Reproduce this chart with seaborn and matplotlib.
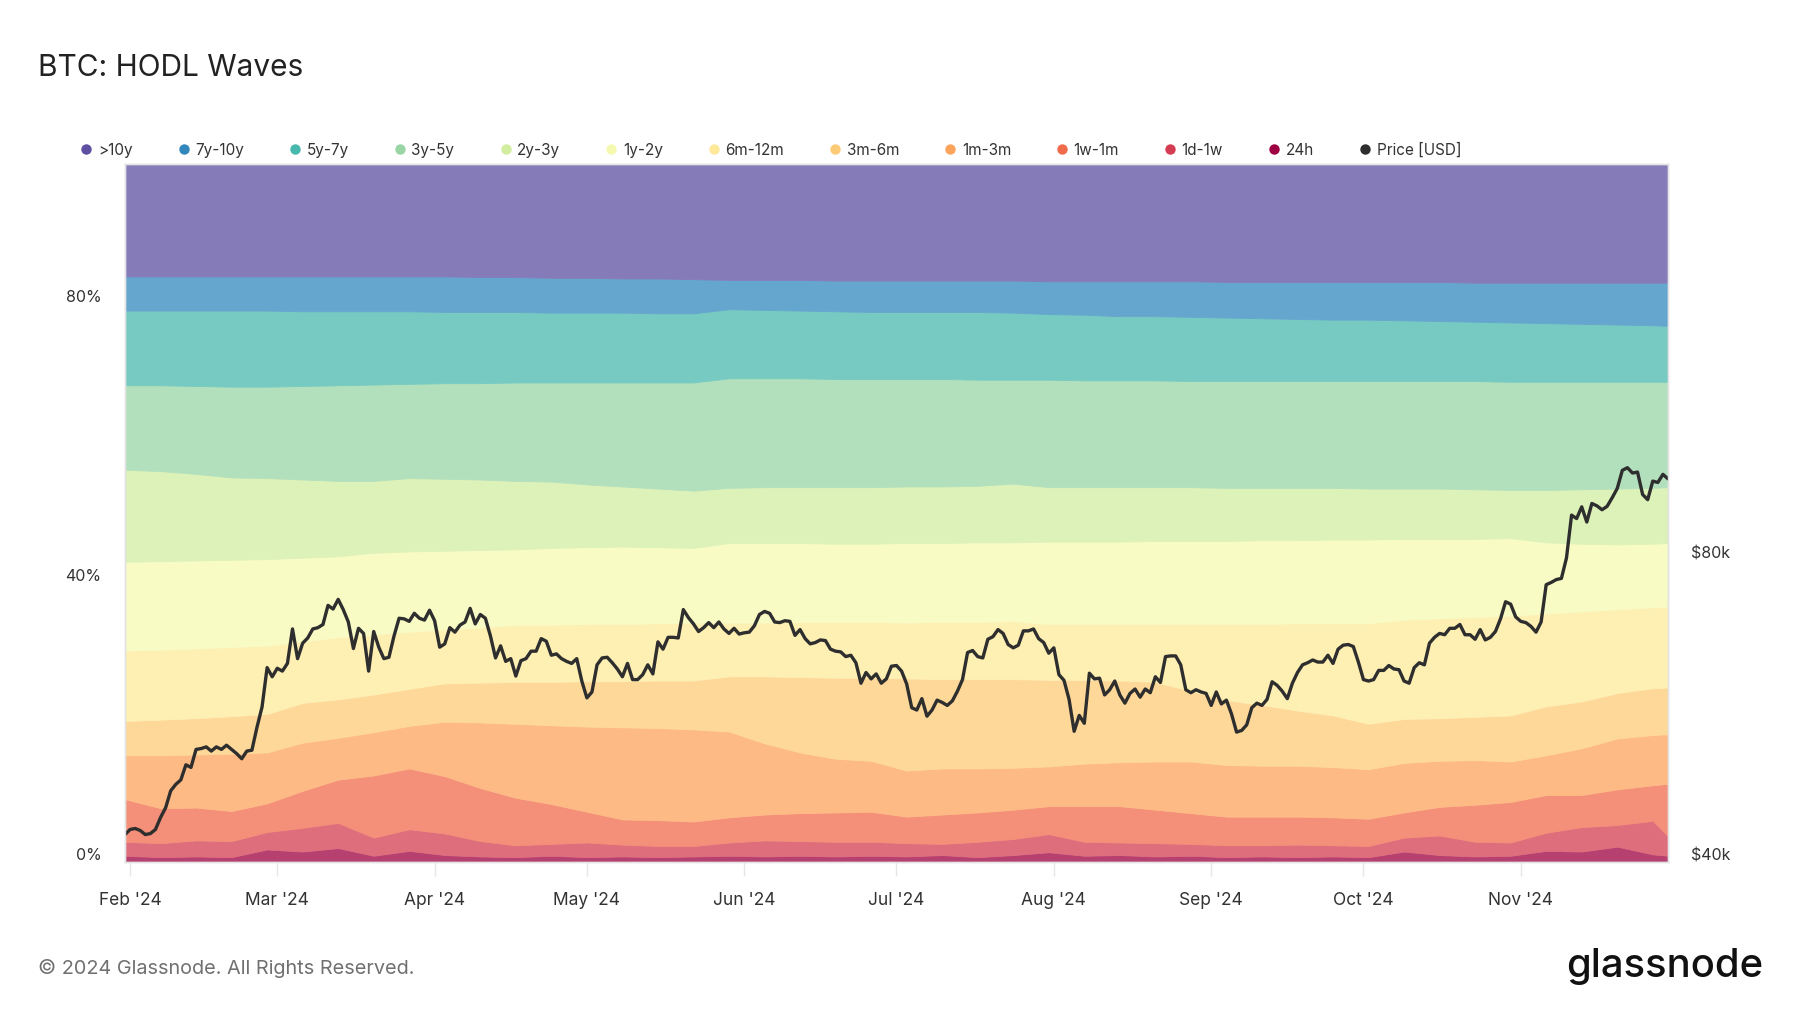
import numpy as np
import pandas as pd
import matplotlib
matplotlib.use("Agg")
import matplotlib.pyplot as plt
import matplotlib.dates as mdates
import matplotlib.colors as mcolors
from matplotlib.lines import Line2D
from matplotlib.ticker import NullLocator
from matplotlib.transforms import ScaledTranslation
import seaborn as sns

sns.set_theme(style="white")
plt.rcParams["font.family"] = ["Inter", "DejaVu Sans"]

# ---------------------------------------------------------------------------
# DATA (% of supply per age band, weekly samples)
# ---------------------------------------------------------------------------

cohorts = [">10y", "7y-10y", "5y-7y", "3y-5y", "2y-3y", "1y-2y",
           "6m-12m", "3m-6m", "1m-3m", "1w-1m", "1d-1w", "24h"]
cohort_colors = ["#5e4fa2", "#3288bd", "#48b8ac", "#99d5a5", "#d1eda0", "#f5f9b0",
                 "#fee99a", "#fdcb77", "#fca35c", "#f06a4c", "#d43d51", "#9e0142"]

band_dates = pd.date_range("2024-01-31", periods=44, freq="7D").append(
    pd.DatetimeIndex(["2024-11-30"]))

share_24h = [0.9, 0.7, 0.8, 0.7, 1.8, 1.5, 2.0, 0.9, 1.6, 1.0, 0.8, 0.7, 0.9, 0.7, 0.8,
             0.7, 0.8, 0.9, 0.8, 0.9, 0.8, 0.9, 0.8, 1.0, 0.7, 1.0, 1.4, 0.9, 1.0, 0.8,
             0.9, 0.7, 0.8, 0.7, 0.8, 0.7, 1.5, 1.0, 0.8, 0.9, 1.6, 1.5, 2.2, 1.1, 0.9]
share_1d_1w = [2.0, 2.0, 2.3, 2.3, 2.5, 3.4, 3.6, 2.6, 3.1, 3.1, 2.2, 1.7, 1.7, 2.1, 1.7,
               1.6, 1.5, 1.9, 2.3, 2.1, 2.1, 2.0, 1.9, 1.6, 2.2, 2.3, 2.6, 2.0, 1.8, 1.9,
               1.7, 1.7, 1.6, 1.8, 1.6, 1.6, 2.0, 2.8, 2.1, 1.9, 2.6, 3.5, 3.1, 4.8, 2.8]
share_1w_1m = [6.1, 5.0, 4.7, 4.3, 4.1, 5.3, 6.2, 8.9, 8.7, 8.2, 7.6, 6.8, 5.7, 4.4, 3.6,
               3.7, 3.5, 3.6, 3.7, 4.0, 4.2, 4.3, 3.8, 4.2, 4.2, 4.2, 4.0, 5.1, 5.2, 4.8,
               4.4, 4.1, 4.1, 4.0, 4.0, 3.9, 3.6, 4.1, 5.3, 5.8, 5.4, 4.6, 5.1, 5.1, 7.5]
share_1m_3m = [6.3, 7.6, 7.6, 8.2, 7.3, 6.9, 6.0, 6.2, 6.1, 7.8, 9.4, 10.6, 11.3, 12.2, 13.2,
               13.2, 13.2, 12.3, 10.2, 8.7, 7.7, 7.3, 6.6, 6.6, 6.3, 6.0, 5.7, 6.1, 6.3, 6.9,
               7.4, 7.4, 7.3, 7.3, 7.2, 7.1, 7.1, 6.6, 6.4, 5.8, 5.7, 6.7, 7.3, 7.2, 7.1]
share_3m_6m = [4.9, 5.1, 5.2, 5.4, 5.5, 5.7, 5.5, 5.4, 5.3, 5.5, 5.7, 6.0, 6.2, 6.5, 6.6,
               6.8, 7.0, 7.9, 9.6, 10.8, 11.6, 11.9, 13.2, 12.8, 12.8, 12.7, 12.4, 12.0, 11.7, 11.4,
               10.1, 9.3, 8.7, 7.9, 7.4, 6.5, 6.3, 6.1, 6.2, 6.6, 7.0, 6.7, 6.5, 6.7, 6.7]
share_6m_12m = [10.1, 10.0, 10.0, 9.9, 9.8, 8.8, 8.9, 8.6, 8.2, 7.7, 7.9, 8.2, 8.2, 8.2, 8.2,
                8.2, 8.3, 7.7, 7.7, 7.9, 8.0, 8.0, 8.0, 8.2, 8.2, 8.3, 8.0, 8.0, 8.1, 8.3,
                9.6, 10.9, 11.6, 12.5, 13.2, 14.4, 14.2, 14.3, 14.3, 14.3, 13.3, 12.9, 12.0, 11.6, 11.6]
share_1y_2y = [12.7, 12.7, 12.6, 12.5, 12.4, 12.0, 11.6, 11.7, 11.5, 11.3, 11.1, 10.8, 11.0, 11.0, 11.1,
               10.9, 10.7, 11.4, 11.4, 11.3, 11.2, 11.2, 11.4, 11.3, 11.4, 11.3, 11.8, 11.8, 11.8, 11.9,
               11.9, 11.9, 12.0, 11.9, 12.0, 12.0, 11.6, 11.4, 11.2, 11.1, 10.2, 9.7, 9.3, 9.1, 9.1]
share_2y_3y = [13.2, 12.9, 12.4, 11.8, 11.6, 11.2, 10.8, 10.3, 10.5, 10.3, 10.1, 9.8, 9.5, 9.0, 8.6,
               8.4, 8.2, 7.9, 8.0, 8.0, 8.1, 8.1, 8.1, 8.1, 8.1, 8.4, 7.8, 7.8, 7.8, 7.7,
               7.7, 7.6, 7.5, 7.5, 7.4, 7.3, 7.2, 7.2, 7.1, 6.9, 7.5, 7.8, 8.0, 8.0, 8.0]
share_3y_5y = [12.1, 12.3, 12.6, 13.0, 13.1, 13.4, 13.7, 13.8, 13.5, 13.7, 13.8, 14.1, 14.2, 14.6, 14.9,
               15.2, 15.5, 15.7, 15.6, 15.6, 15.5, 15.5, 15.4, 15.4, 15.2, 14.9, 15.4, 15.3, 15.3, 15.3,
               15.2, 15.3, 15.3, 15.3, 15.3, 15.4, 15.4, 15.4, 15.5, 15.5, 15.5, 15.4, 15.3, 15.2, 15.1]
share_5y_7y = [10.7, 10.7, 10.8, 10.9, 10.9, 10.7, 10.6, 10.5, 10.4, 10.2, 10.2, 10.1, 10.0, 10.0, 10.0,
               9.9, 9.9, 9.9, 9.8, 9.7, 9.7, 9.6, 9.6, 9.6, 9.7, 9.6, 9.4, 9.4, 9.2, 9.2,
               9.2, 9.1, 9.0, 8.9, 8.8, 8.8, 8.7, 8.6, 8.5, 8.5, 8.4, 8.3, 8.2, 8.1, 8.0]
share_7y_10y = [4.9, 4.9, 4.9, 4.9, 4.9, 5.0, 5.0, 5.0, 5.0, 5.1, 5.0, 5.0, 5.0, 5.0, 4.9,
                5.0, 4.9, 4.2, 4.3, 4.4, 4.4, 4.5, 4.5, 4.5, 4.5, 4.6, 4.7, 4.8, 5.0, 5.0,
                5.1, 5.1, 5.2, 5.3, 5.4, 5.4, 5.5, 5.6, 5.6, 5.7, 5.8, 5.9, 6.0, 6.1, 6.2]
share_10y = [16.1, 16.1, 16.1, 16.1, 16.1, 16.1, 16.1, 16.1, 16.1, 16.1, 16.2, 16.2, 16.3, 16.3, 16.4,
             16.4, 16.5, 16.6, 16.6, 16.6, 16.7, 16.7, 16.7, 16.7, 16.7, 16.7, 16.8, 16.8, 16.8, 16.8,
             16.8, 16.9, 16.9, 16.9, 16.9, 16.9, 16.9, 16.9, 17.0, 17.0, 17.0, 17.0, 17.0, 17.0, 17.0]

# daily BTC close, $k, 31 Jan -> 30 Nov 2024
price_k = [
    42.6,
    43.1, 43.2, 43.0, 42.6, 42.7, 43.1, 44.3, 45.3, 47.1, 47.8, 48.3, 50.0, 49.7, 51.8, 51.9,
    52.1, 51.6, 52.1, 51.8, 52.3, 51.8, 51.3, 50.7, 51.6, 51.7, 54.5, 57.1, 62.5, 61.2,
    62.4, 62.0, 63.1, 68.3, 63.8, 66.1, 66.9, 68.3, 68.5, 69.0, 72.1, 71.5, 73.1, 71.4, 69.4,
    65.3, 68.4, 67.6, 62.0, 67.9, 65.5, 63.8, 64.0, 67.2, 70.0, 69.9, 69.5, 70.8, 70.0, 69.7, 71.3,
    69.6, 65.5, 66.0, 68.5, 67.8, 68.9, 69.4, 71.6, 69.1, 70.6, 70.0, 67.2, 63.9, 65.7, 63.4,
    63.8, 61.3, 63.5, 63.8, 64.9, 64.9, 66.8, 66.4, 64.3, 64.5, 63.8, 63.4, 63.1, 63.8, 60.6,
    58.3, 59.1, 62.9, 63.9, 64.0, 63.2, 62.3, 61.2, 63.1, 60.8, 60.8, 61.5, 62.9, 61.6, 66.3,
    65.2, 67.0, 67.0, 66.9, 71.4, 70.1, 69.1, 67.9, 68.5, 69.3, 68.5, 69.4, 68.3, 67.6, 68.4, 67.5,
    67.7, 67.8, 68.8, 70.6, 71.1, 70.8, 69.4, 69.3, 69.6, 69.5, 67.3, 68.2, 66.8, 66.0, 66.2,
    66.6, 66.5, 65.2, 64.9, 64.8, 64.1, 64.3, 63.2, 60.3, 61.8, 60.9, 61.6, 60.3, 60.9, 62.7,
    62.8, 62.0, 60.2, 57.0, 56.7, 58.2, 55.9, 56.7, 58.0, 57.7, 57.3, 57.9, 59.2, 60.8, 64.7,
    65.0, 64.1, 63.9, 66.7, 67.1, 68.2, 67.6, 65.9, 65.4, 65.8, 68.0, 68.0, 68.3, 66.8, 66.2, 64.6,
    65.4, 61.5, 60.7, 58.1, 54.0, 56.0, 55.0, 61.7, 60.9, 61.0, 58.7, 59.4, 60.6, 58.7, 57.6,
    58.9, 59.5, 58.4, 59.5, 59.0, 61.2, 60.4, 64.1, 64.2, 64.2, 62.9, 59.4, 59.0, 59.4, 59.1, 58.9,
    57.3, 59.1, 57.5, 58.0, 56.2, 53.9, 54.1, 54.8, 57.0, 57.6, 57.3, 58.1, 60.5, 60.0, 59.2,
    58.2, 60.3, 61.8, 62.9, 63.2, 63.6, 63.3, 63.3, 64.3, 63.1, 65.2, 65.8, 65.9, 65.6, 63.3,
    60.8, 60.6, 60.8, 62.1, 62.1, 62.8, 62.3, 62.2, 60.6, 60.3, 62.5, 63.2, 62.9, 66.1, 67.0,
    67.6, 67.4, 68.4, 68.4, 69.0, 67.4, 67.4, 66.7, 68.2, 66.6, 67.0, 67.9, 69.9, 72.7, 72.3, 70.2,
    69.5, 69.3, 68.7, 67.8, 69.4, 75.6, 76.0, 76.5, 76.7, 80.4, 88.7, 88.0, 90.4, 87.3, 91.1,
    90.6, 89.8, 90.5, 92.3, 94.3, 98.3, 98.9, 97.7, 97.9, 93.0, 91.9, 95.9, 95.6, 97.4, 96.4,
]
price_dates = pd.date_range("2024-01-31", "2024-11-30", freq="D")

shares = {
    "24h": share_24h, "1d-1w": share_1d_1w, "1w-1m": share_1w_1m, "1m-3m": share_1m_3m,
    "3m-6m": share_3m_6m, "6m-12m": share_6m_12m, "1y-2y": share_1y_2y, "2y-3y": share_2y_3y,
    "3y-5y": share_3y_5y, "5y-7y": share_5y_7y, "7y-10y": share_7y_10y, ">10y": share_10y,
}

# ---------------------------------------------------------------------------
# PLOT
# ---------------------------------------------------------------------------

def soften(hex_color, alpha=0.75):
    rgb = np.array(mcolors.to_rgb(hex_color))
    return tuple(alpha * rgb + (1 - alpha) * 1.0)


stack_order = cohorts[::-1]  # bottom (24h) -> top (>10y)
color_of = dict(zip(cohorts, cohort_colors))
stack = np.array([shares[c] for c in stack_order], dtype=float)
stack = stack / stack.sum(axis=0) * 100

fig = plt.figure(figsize=(18, 10.13), dpi=100)
ax = fig.add_axes([125 / 1800, 151 / 1013, 1543 / 1800, 698 / 1013])

polys = ax.stackplot(band_dates, *stack, colors=[soften(color_of[c]) for c in stack_order])
for p in polys:
    p.set_edgecolor(p.get_facecolor())
    p.set_linewidth(0.6)

ax.set_xlim(price_dates[0], price_dates[-1])
ax.set_ylim(0, 100)
ax.set_yticks([0, 40, 80])
ax.set_yticklabels(["0%", "40%", "80%"])
ax.xaxis.set_major_locator(mdates.MonthLocator())
ax.xaxis.set_major_formatter(mdates.DateFormatter("%b '%y"))
ax.tick_params(axis="y", length=0, pad=17, labelsize=11.5, labelcolor="#333333")
ax.tick_params(axis="x", length=10, width=1, color="#e6e6e6", direction="out",
               pad=11.5, labelsize=12.5, labelcolor="#333333", bottom=True)

ax2 = ax.twinx()
sns.lineplot(x=price_dates, y=np.array(price_k) * 1000, ax=ax2,
             color="#2e2e2e", linewidth=2.4, legend=False)
ax2.set_yscale("log")
ax2.set_ylim(40000, 198600)
ax2.yaxis.set_minor_locator(NullLocator())
ax2.set_yticks([40000, 80000])
ax2.set_yticklabels([r"\$40k", r"\$80k"])
ax2.tick_params(axis="y", length=0, pad=16.5, labelsize=11.5, labelcolor="#333333")
ax2.set_xlim(price_dates[0], price_dates[-1])
ax.set_xlabel("")
ax.set_ylabel("")
ax2.set_xlabel("")
ax2.set_ylabel("")

for a in (ax, ax2):
    for s in a.spines.values():
        s.set_color("#e3e3e3")
        s.set_linewidth(1)

# tick labels sit slightly above their tick
off = ScaledTranslation(0, 8 / 100, fig.dpi_scale_trans)
for lab in ax.get_yticklabels() + ax2.get_yticklabels():
    lab.set_transform(lab.get_transform() + off)

handles = [Line2D([], [], marker="o", linestyle="", markersize=7.5,
                  markerfacecolor=color_of[c], markeredgewidth=0) for c in cohorts]
handles.append(Line2D([], [], marker="o", linestyle="", markersize=7.5,
                      markerfacecolor="#2e2e2e", markeredgewidth=0))
fig.legend(handles, cohorts + ["Price [USD]"], loc="center left",
           bbox_to_anchor=(81 / 1800, 1 - 150 / 1013), ncol=13, frameon=False,
           fontsize=11, handlelength=0.7, handletextpad=0.4, columnspacing=3.0,
           borderpad=0, borderaxespad=0, labelcolor="#333333")

fig.text(38 / 1800, 1 - 67.5 / 1013, "BTC: HODL Waves", fontsize=21.5,
         color="#222222", va="center", ha="left")
fig.text(38 / 1800, 1 - 968 / 1013, "© 2024 Glassnode. All Rights Reserved.",
         fontsize=14.3, color="#707070", va="center", ha="left")
fig.text(1763 / 1800, 1 - 966 / 1013, "glassnode", fontsize=28.8, fontweight="medium",
         color="#111111", va="center", ha="right")

fig.savefig("out.png", dpi=100)
